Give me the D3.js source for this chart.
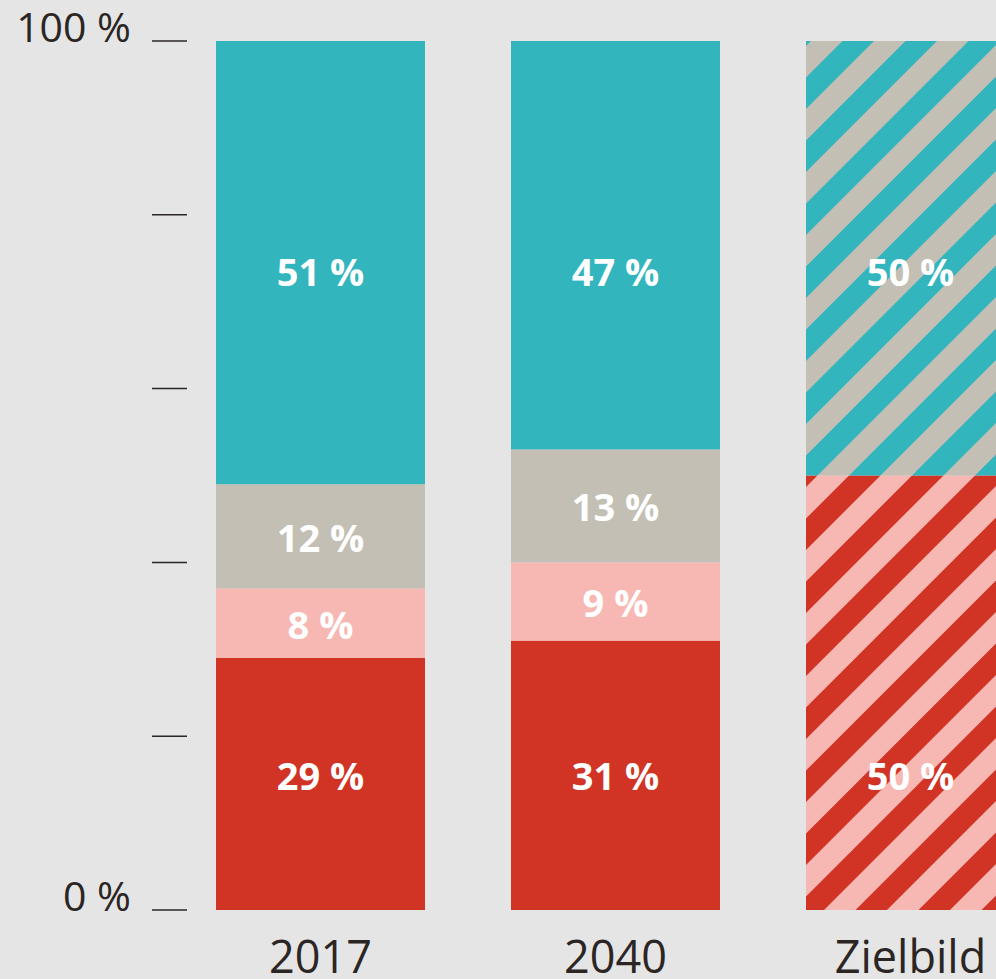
<!DOCTYPE html>
<html>
<head>
<meta charset="utf-8">
<script src="https://cdn.jsdelivr.net/npm/d3@7"></script>
<style>
  html, body { margin: 0; padding: 0; background: #e5e5e5; }
  svg { display: block; }
</style>
</head>
<body>
<div id="chart"></div>
<script>
// Daten
var categories = ["2017", "2040", "Zielbild"];
var values2017 = [29, 8, 12, 51];
var values2040 = [31, 9, 13, 47];
var valuesZielbild = [50, 50];
var yTicks = [0, 20, 40, 60, 80, 100];
var yTickLabels = { 0: "0 %", 100: "100 %" };

// Farben (von unten nach oben)
var colors = ["#d13324", "#f7b8b3", "#c3bfb4", "#33b5bd"];

var width = 996;
var height = 979;

var svg = d3.select("#chart")
    .append("svg")
    .attr("width", width)
    .attr("height", height);

svg.append("rect")
    .attr("width", width)
    .attr("height", height)
    .attr("fill", "#e5e5e5");

// Schraffur-Muster
var defs = svg.append("defs");
function hatch(id, a, b) {
    var p = 63;
    var pat = defs.append("pattern")
        .attr("id", id)
        .attr("patternUnits", "userSpaceOnUse")
        .attr("x", 33).attr("y", 0)
        .attr("width", p).attr("height", p);
    pat.append("rect").attr("width", p).attr("height", p).attr("fill", a);
    pat.append("polygon")
        .attr("points", [[0, 0], [p / 2, 0], [0, p / 2]].join(" "))
        .attr("fill", b);
    pat.append("polygon")
        .attr("points", [[p, 0], [p, p / 2], [p / 2, p], [0, p]].join(" "))
        .attr("fill", b);
}
hatch("hatchRed", colors[0], colors[1]);
hatch("hatchTeal", colors[3], colors[2]);

var fills = {
    "2017": colors,
    "2040": colors,
    "Zielbild": ["url(#hatchRed)", "url(#hatchTeal)"]
};
var valuesByCat = {
    "2017": values2017,
    "2040": values2040,
    "Zielbild": valuesZielbild
};

var x = d3.scaleBand()
    .domain(categories)
    .range([216, 1015])
    .paddingInner(86 / 295)
    .paddingOuter(0);

var y = d3.scaleLinear()
    .domain([0, 100])
    .range([910, 41]);

// Y-Achse: kurze Striche
svg.selectAll("line.tick")
    .data(yTicks)
    .enter()
    .append("line")
    .attr("class", "tick")
    .attr("x1", 152)
    .attr("x2", 187)
    .attr("y1", function(d) { return y(d); })
    .attr("y2", function(d) { return y(d); })
    .attr("stroke", "#2b2624")
    .attr("stroke-width", 1.5);

svg.selectAll("text.ylab")
    .data(yTicks.filter(function(d) { return yTickLabels[d]; }))
    .enter()
    .append("text")
    .attr("class", "ylab")
    .attr("x", 131)
    .attr("y", function(d) { return y(d) + 1; })
    .attr("text-anchor", "end")
    .attr("font-family", "'Open Sans', sans-serif")
    .attr("font-size", 41)
    .attr("fill", "#2b2624")
    .text(function(d) { return yTickLabels[d]; });

// Balken stapeln
categories.forEach(function(cat) {
    var vals = valuesByCat[cat];
    var acc = 0;
    var segs = vals.map(function(v, i) {
        var s = { cat: cat, value: v, y0: acc, y1: acc + v, i: i, n: vals.length };
        acc += v;
        return s;
    });

    var g = svg.append("g");

    g.selectAll("rect")
        .data(segs)
        .enter()
        .append("rect")
        .attr("x", x(cat))
        .attr("width", x.bandwidth())
        .attr("y", function(d) { return y(d.y1); })
        .attr("height", function(d) { return y(d.y0) - y(d.y1); })
        .attr("fill", function(d) { return fills[cat][d.i]; });

    g.selectAll("text")
        .data(segs)
        .enter()
        .append("text")
        .attr("x", x(cat) + x.bandwidth() / 2)
        .attr("y", function(d) {
            if (d.i === 0) return y(15.4);
            if (d.i === d.n - 1) return y(73.4);
            return y((d.y0 + d.y1) / 2) + 2;
        })
        .attr("dy", "0.357em")
        .attr("text-anchor", "middle")
        .attr("font-family", "'Open Sans', sans-serif")
        .attr("font-weight", "bold")
        .attr("font-size", 38)
        .attr("fill", "#ffffff")
        .text(function(d) { return d.value + " %"; });
});

// X-Beschriftung
svg.selectAll("text.xlab")
    .data(categories)
    .enter()
    .append("text")
    .attr("class", "xlab")
    .attr("x", function(d) { return x(d) + x.bandwidth() / 2; })
    .attr("y", 973)
    .attr("text-anchor", "middle")
    .attr("font-family", "'Open Sans', sans-serif")
    .attr("font-size", 45)
    .attr("fill", "#2b2624")
    .text(function(d) { return d; });
</script>
</body>
</html>
